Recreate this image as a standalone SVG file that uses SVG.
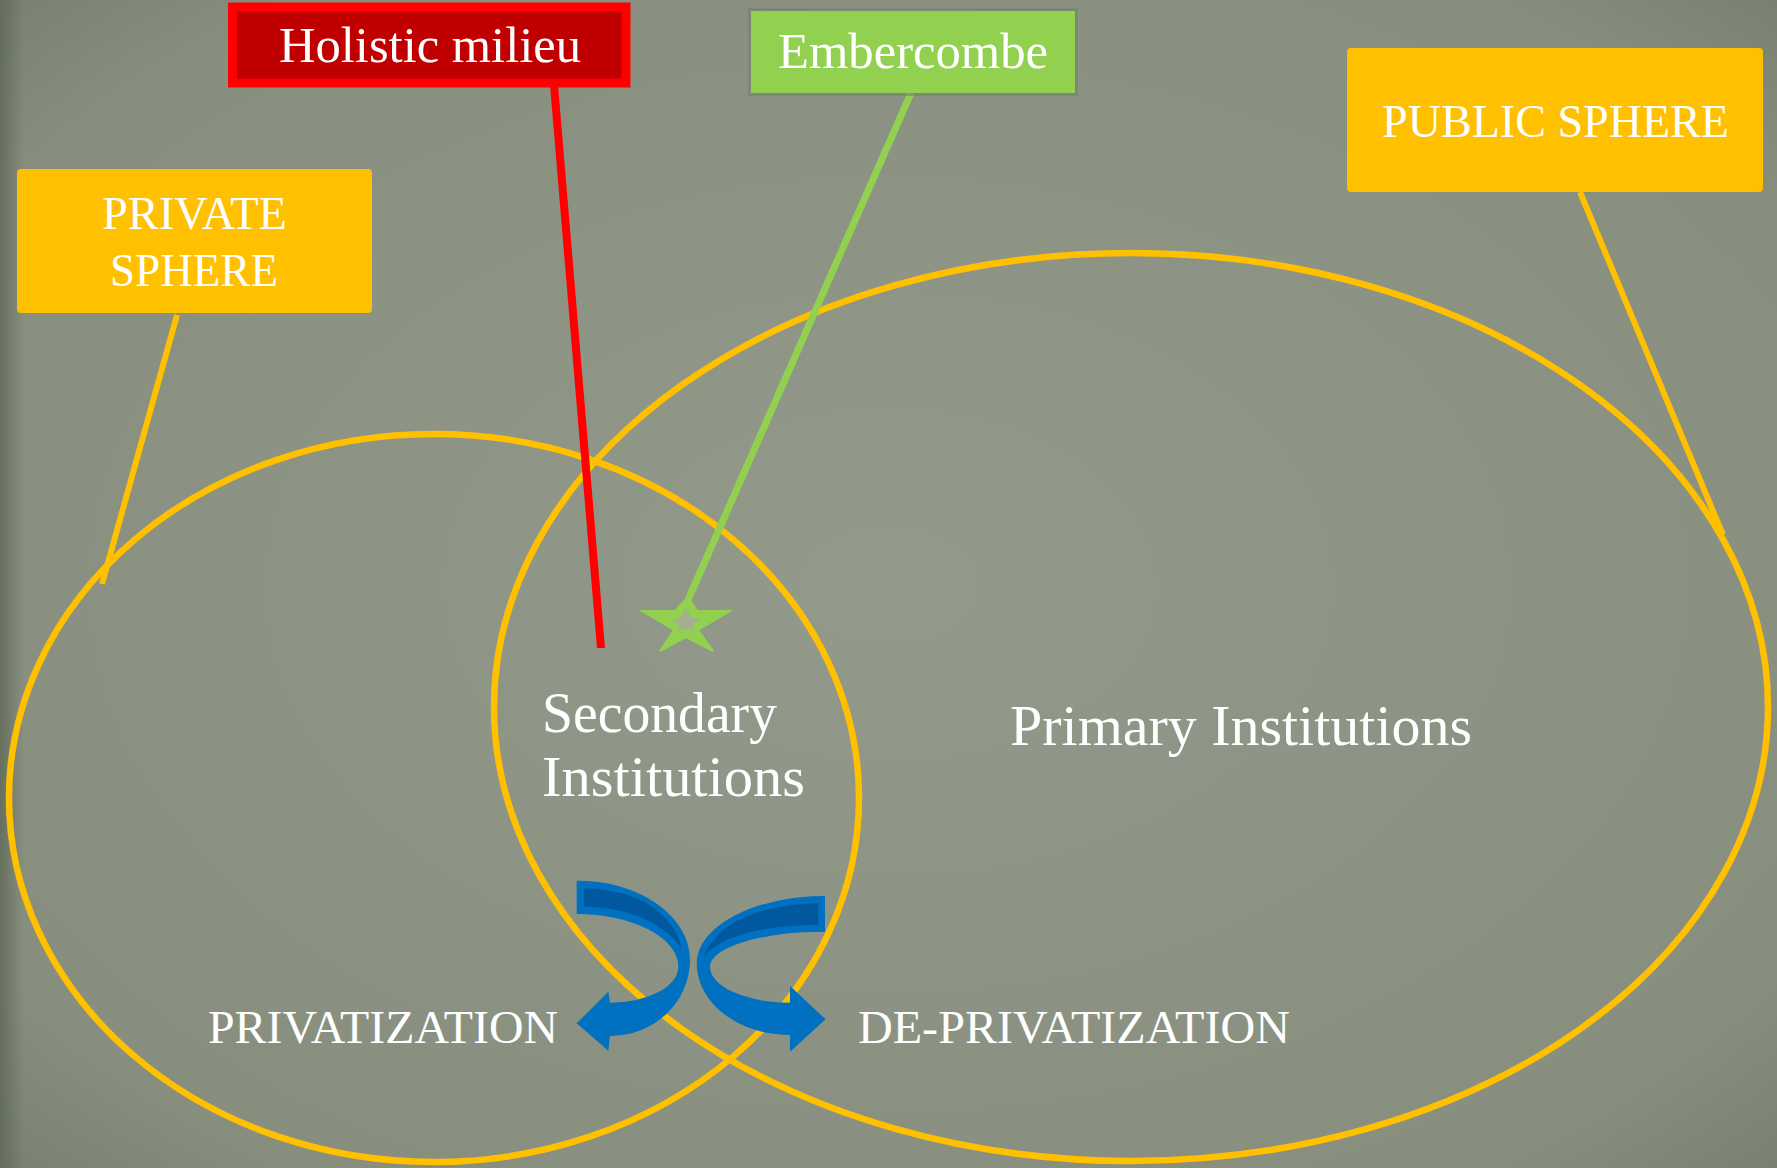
<svg xmlns="http://www.w3.org/2000/svg" width="1777" height="1168" viewBox="0 0 1777 1168">
  <defs>
    <radialGradient id="bg" cx="50%" cy="50%" r="75%">
      <stop offset="0" stop-color="#939A8B"/>
      <stop offset="0.8" stop-color="#878E7E"/>
      <stop offset="1" stop-color="#737B69"/>
    </radialGradient>
    <linearGradient id="edge" x1="0" y1="0" x2="1" y2="0">
      <stop offset="0" stop-color="#5E6856" stop-opacity="0.8"/>
      <stop offset="1" stop-color="#5E6856" stop-opacity="0"/>
    </linearGradient>
    <style>
      .lbl { font-family: "Liberation Serif", "Times New Roman", serif; fill: #FFFFFF; }
      .sphere { fill: none; stroke: #FFC000; stroke-width: 6.5; }
      .box { fill: #FFC000; }
      .arrow { fill: #0070C0; }
      .arrowback { fill: #00589E; }
    </style>
  </defs>

  <rect x="0" y="0" width="1777" height="1168" fill="url(#bg)"/>
  <rect x="0" y="0" width="24" height="1168" fill="url(#edge)"/>

  <g id="spheres">
    <ellipse id="private-ellipse" class="sphere" cx="434" cy="798" rx="425" ry="364"/>
    <ellipse id="public-ellipse" class="sphere" cx="1131" cy="707" rx="637" ry="454"/>
  </g>

  <g id="connectors" stroke-linecap="butt">
    <line x1="177" y1="315" x2="102" y2="584" stroke="#FFC000" stroke-width="6"/>
    <line x1="1580" y1="192" x2="1723" y2="535" stroke="#FFC000" stroke-width="6"/>
    <line x1="554" y1="85" x2="601" y2="648" stroke="#FF0000" stroke-width="8"/>
    <line x1="911" y1="93" x2="688" y2="600" stroke="#92D050" stroke-width="7"/>
  </g>

  <g id="holistic-milieu">
    <rect x="232.5" y="7" width="393.5" height="76" fill="#C00000" stroke="#FF0000" stroke-width="9"/>
    <text class="lbl" x="279" y="62" font-size="50" textLength="302" lengthAdjust="spacingAndGlyphs">Holistic milieu</text>
  </g>

  <g id="embercombe">
    <rect x="748" y="8" width="330" height="88" fill="#7A8070" opacity="0.6"/>
    <rect x="751" y="11" width="324" height="82" fill="#92D050"/>
    <text class="lbl" x="778" y="68" font-size="50" textLength="270" lengthAdjust="spacingAndGlyphs">Embercombe</text>
  </g>

  <g id="private-sphere">
    <rect class="box" x="17" y="169" width="355" height="144" rx="4"/>
    <text class="lbl" x="102" y="229" font-size="47" textLength="185" lengthAdjust="spacingAndGlyphs">PRIVATE</text>
    <text class="lbl" x="110" y="286" font-size="47" textLength="168" lengthAdjust="spacingAndGlyphs">SPHERE</text>
  </g>

  <g id="public-sphere">
    <rect class="box" x="1347" y="48" width="416" height="144" rx="4"/>
    <text class="lbl" x="1382" y="137" font-size="47" textLength="347" lengthAdjust="spacingAndGlyphs">PUBLIC SPHERE</text>
  </g>

  <g id="embercombe-star">
    <polygon points="688,597 697,611 730,611 698,630 713,651 686,637 660,651 674,630 642,611 675,611" fill="#92D050" stroke="#92D050" stroke-width="2" stroke-linejoin="miter"/>
    <polygon points="686,608 691,617 700,620 692,625 695,632 686,628 677,632 680,625 673,620 681,617" fill="#A4AF90"/>
  </g>

  <g id="secondary-institutions">
    <text class="lbl" x="542" y="732" font-size="57" textLength="235" lengthAdjust="spacingAndGlyphs">Secondary</text>
    <text class="lbl" x="542" y="796" font-size="57" textLength="263" lengthAdjust="spacingAndGlyphs">Institutions</text>
  </g>

  <g id="primary-institutions">
    <text class="lbl" x="1010" y="745" font-size="57" textLength="462" lengthAdjust="spacingAndGlyphs">Primary Institutions</text>
  </g>

  <g id="arrows" transform="translate(560 860) scale(0.33333)">
    <g id="privatization-arrow">
      <path class="arrow" d="M 50 62 A 338 238 0 0 1 390 300 A 240 228 0 0 1 150 528 L 145 572 L 50 490 L 145 395 L 150 428 A 205 108 0 0 0 355 320 A 305 158 0 0 0 50 162 Z"/>
      <path class="arrowback" d="M 72 85 C 250 90 345 170 365 265 C 320 200 220 140 72 140 Z"/>
    </g>
    <g id="deprivatization-arrow">
      <path class="arrow" d="M 795 108 A 385 202 0 0 0 410 310 A 280 215 0 0 0 690 525 L 690 575 L 797 478 L 690 378 L 690 428 A 240 108 0 0 1 450 320 A 345 105 0 0 1 795 215 Z"/>
      <path class="arrowback" d="M 775 130 C 600 135 470 185 432 290 C 480 230 600 195 775 195 Z"/>
    </g>
  </g>

  <g id="privatization">
    <text class="lbl" x="208" y="1043" font-size="47" textLength="350" lengthAdjust="spacingAndGlyphs">PRIVATIZATION</text>
  </g>
  <g id="deprivatization">
    <text class="lbl" x="858" y="1043" font-size="47" textLength="432" lengthAdjust="spacingAndGlyphs">DE-PRIVATIZATION</text>
  </g>
</svg>
